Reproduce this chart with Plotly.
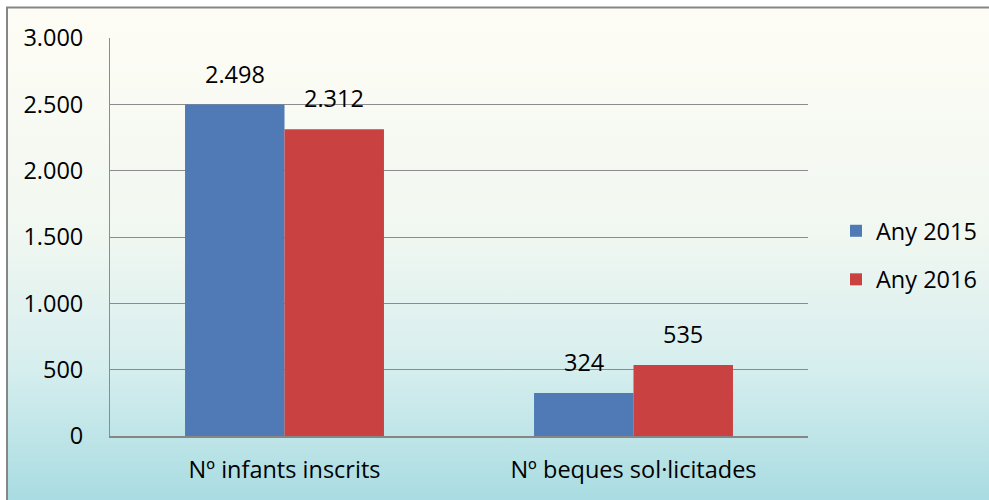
import base64
import plotly.graph_objects as go

categories = ["Nº infants inscrits", "Nº beques sol·licitades"]
series_names = ["Any 2015", "Any 2016"]
values_2015 = [2498, 324]
values_2016 = [2312, 535]
y_ticks = [0, 500, 1000, 1500, 2000, 2500, 3000]

colors = ["#4F7AB6", "#CA4141"]
FONT = "Open Sans"
FS = 23.5

W, H = 989, 500
ML, MR, MT, MB = 110, 181, 38, 64
PW, PH = W - ML - MR, H - MT - MB

svg = f'''<svg xmlns="http://www.w3.org/2000/svg" width="{W}" height="{H}" viewBox="0 0 {W} {H}" preserveAspectRatio="none">
<defs><linearGradient id="g" x1="0" y1="0" x2="0" y2="1">
<stop offset="0" stop-color="#FEFDF5"/>
<stop offset="0.45" stop-color="#F1F7F1"/>
<stop offset="0.72" stop-color="#D6EEEE"/>
<stop offset="1" stop-color="#A6DBE1"/>
</linearGradient></defs>
<rect x="0" y="0" width="{W}" height="{H}" fill="#FFFFFF"/>
<rect x="8" y="8" width="{W}" height="{H}" fill="url(#g)"/>
<rect x="7" y="7.5" width="{W+20}" height="{H+20}" fill="none" stroke="#868686" stroke-width="2"/>
</svg>'''
src = "data:image/svg+xml;base64," + base64.b64encode(svg.encode()).decode()

fig = go.Figure()
for name, vals, col in zip(series_names, [values_2015, values_2016], colors):
    fig.add_trace(go.Bar(
        x=categories, y=vals, name=name, marker_color=col,
        marker_line_width=0, legendgroup=name,
    ))

bargap = 0.43
bar_px = PW / len(categories) * (1 - bargap) / 2
annotations = []
for i, vals in enumerate([values_2015, values_2016]):
    shift = (-0.5 if i == 0 else 0.5) * bar_px
    for c, v in zip(categories, vals):
        annotations.append(dict(
            x=c, y=v, text=f"{v:,}".replace(",", "."), showarrow=False,
            xshift=shift, yshift=13, yanchor="bottom",
            font=dict(family=FONT, size=FS, color="#000"),
        ))

fig.update_layout(
    width=W, height=H,
    margin=dict(l=ML, r=MR, t=MT, b=MB, pad=0, autoexpand=False),
    barmode="group", bargap=bargap, bargroupgap=0,
    paper_bgcolor="rgba(0,0,0,0)", plot_bgcolor="rgba(0,0,0,0)",
    separators=",.",
    font=dict(family=FONT, size=FS, color="#000"),
    showlegend=True,
    legend=dict(
        x=(836 - ML) / PW, xanchor="left", y=0.5 - 18.5 / PH, yanchor="middle",
        bgcolor="rgba(0,0,0,0)", tracegroupgap=15,
        font=dict(family=FONT, size=FS, color="#000"),
    ),
    images=[dict(
        source=src, xref="paper", yref="paper",
        x=-ML / PW, y=1 + MT / PH, sizex=W / PW, sizey=H / PH,
        xanchor="left", yanchor="top", sizing="stretch", layer="below",
    )],
    annotations=annotations,
    xaxis=dict(
        showgrid=False, showline=True, linecolor="#868686", linewidth=2,
        ticks="", ticklabelstandoff=12,
        tickfont=dict(family=FONT, size=FS, color="#000"),
    ),
    yaxis=dict(
        range=[0, 3000], tickvals=y_ticks, tickformat=",d",
        showgrid=True, gridcolor="#8C8C8C", gridwidth=1,
        showline=True, linecolor="#8C8C8C", linewidth=1,
        zeroline=False, ticks="", ticklabelstandoff=21,
        tickfont=dict(family=FONT, size=FS, color="#000"),
    ),
)

fig.write_html(
    "out.html",
    config={"displayModeBar": False},
    post_script="document.body.style.margin='0';document.body.style.overflow='hidden';",
)
